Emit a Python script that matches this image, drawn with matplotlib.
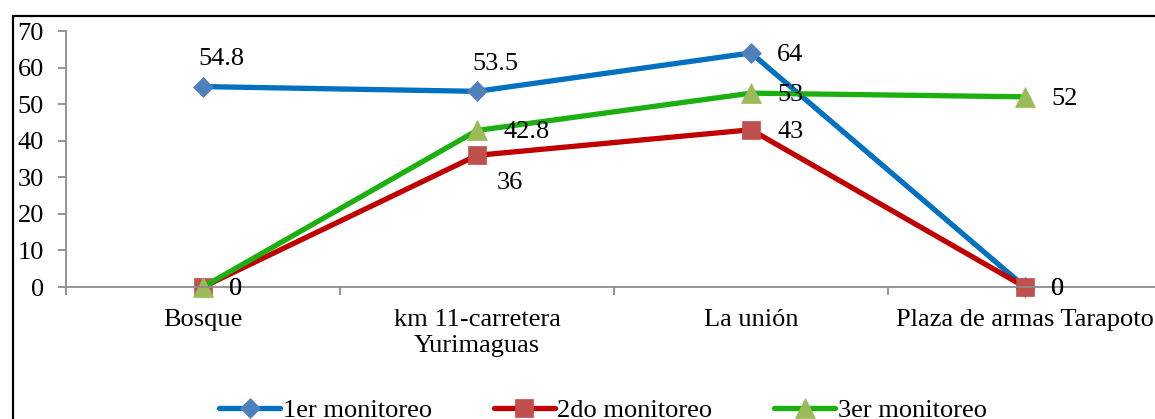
import matplotlib
matplotlib.use("Agg")
import matplotlib.pyplot as plt
from matplotlib.patches import Rectangle

# Sampling sites and the three monitoring campaigns
sites = ["Bosque", "km 11-carretera\nYurimaguas", "La unión", "Plaza de armas Tarapoto"]
monitoreo_1 = [54.8, 53.5, 64, 0]
monitoreo_2 = [0, 36, 43, 0]
monitoreo_3 = [0, 42.8, 53, 52]
series_names = ["1er monitoreo", "2do monitoreo", "3er monitoreo"]
y_ticks = [0, 10, 20, 30, 40, 50, 60, 70]

plt.rcParams["font.family"] = ["Liberation Serif", "DejaVu Serif"]
FS = 19
W, H, DPI = 1155, 419, 100

fig = plt.figure(figsize=(W / DPI, H / DPI), dpi=DPI)
fig.patch.set_facecolor("white")

# outer chart frame
fig.add_artist(Rectangle((13 / W, -0.5), 2.0, 1 - 16 / H + 0.5,
                         transform=fig.transFigure, fill=False,
                         edgecolor="black", linewidth=1.6))

ax = fig.add_axes([66 / W, 1 - 287 / H, 1096 / W, 256 / H])
x = list(range(len(sites)))

styles = [
    dict(color="#0070C0", marker="D", ms=10.5, mfc="#4F81BD", mec="#4F81BD"),
    dict(color="#C00000", marker="s", ms=13, mfc="#C0504D", mec="#C0504D"),
    dict(color="#1BB010", marker="^", ms=15, mfc="#9BBB59", mec="#9BBB59"),
]
series = [monitoreo_1, monitoreo_2, monitoreo_3]
for vals, name, st in zip(series, series_names, styles):
    ax.plot(x, vals, linewidth=3.8, label=name, mew=0.5, clip_on=False,
            solid_capstyle="round", solid_joinstyle="round", **st)

# data labels (offsets in pixels)
right = (26, -2)
label_offsets = [
    [(18, 28, "center"), (18, 27, "center"), (*right, "left"), (*right, "left")],
    [(*right, "left"), (33, -28, "center"), (*right, "left"), (*right, "left")],
    [(*right, "left"), (*right, "left"), (*right, "left"), (*right, "left")],
]
for vals, offs in zip(series, label_offsets):
    for xi, v, (dx, dy, ha) in zip(x, vals, offs):
        ax.annotate(f"{v:g}", (xi, v), xytext=(dx, dy), textcoords="offset pixels",
                    ha=ha, va="center", fontsize=FS, color="black", zorder=10,
                    annotation_clip=False)

ax.set_xlim(-0.5, 3.5)
ax.set_ylim(0, 70)
ax.set_yticks(y_ticks)
ax.set_xticks(x)
ax.set_xticklabels(sites, fontsize=FS, linespacing=1.2)
ax.set_xticks([-0.5, 0.5, 1.5, 2.5, 3.5], minor=True)

axis_grey = "#8C8C8C"
for s in ["top", "right"]:
    ax.spines[s].set_visible(False)
for s in ["left", "bottom"]:
    ax.spines[s].set_color(axis_grey)
    ax.spines[s].set_linewidth(1.3)

ax.tick_params(axis="y", direction="out", length=6, width=1.3, color=axis_grey,
               labelsize=FS, pad=10)
ax.tick_params(axis="x", which="major", length=0, pad=16, labelsize=FS)
ax.tick_params(axis="x", which="minor", direction="out", length=6, width=1.3,
               color=axis_grey)
ax.patch.set_alpha(0)

fig.legend(loc="center", bbox_to_anchor=(603 / W, 1 - 410 / H), ncol=3,
           frameon=False, fontsize=FS, handlelength=2.3, handletextpad=0.1,
           columnspacing=2.35, borderaxespad=0)

fig.savefig("out.png", dpi=DPI, facecolor="white")
